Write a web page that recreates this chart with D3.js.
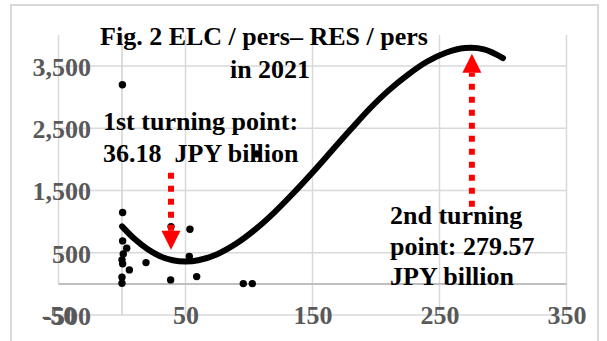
<!DOCTYPE html>
<html>
<head>
<meta charset="utf-8">
<script src="https://cdn.jsdelivr.net/npm/d3@7"></script>
<style>
  html, body { margin: 0; padding: 0; background: #fff; }
  svg { display: block; }
  text { font-family: "Liberation Serif", "Times New Roman", serif; font-weight: bold; }
</style>
</head>
<body>
<svg id="chart" width="607" height="341"></svg>
<script>
// ---- data ----
const pointX = [0.3, 0.5, 0.5, 3.7, 1, 0, 0.5, 5.8, 0, 0, 18.9, 38.6, 53.5, 53, 38.3, 58.8, 95.5, 102.6, 106];
const pointY = [3200, 1147, 691, 574, 482, 386, 322, 225, 108, 10, 342, 921, 879, 439, 64, 117, 5, 5, 2090];

const trendX = [0, 10, 20, 30, 40, 50, 60, 75, 90, 105, 120, 135, 150, 165, 180, 195, 210, 225, 240, 255, 270, 285, 300];
const trendY = [925, 720, 560, 445, 380, 360, 380, 478, 648, 876, 1150, 1460, 1790, 2135, 2480, 2815, 3110, 3360, 3570, 3715, 3790, 3770, 3630];

const xTicks = [-50, 50, 150, 250, 350];
const yTicks = [-500, 500, 1500, 2500, 3500];

const titleLines = ["Fig. 2 ELC / pers\u2013 RES / pers", "in 2021"];
const note1Lines = ["1st turning point:", "36.18  JPY billion"];
const note2Lines = ["2nd turning", "point: 279.57", "JPY billion"];

// arrows: x position, start y (tail), tip y in data units
const arrowX = [38.6, 275.5];
const arrowTail = [1785, 1238];
const arrowTip = [547, 3698];

// ---- layout ----
const svg = d3.select("#chart");
const x = d3.scaleLinear().domain([-50, 350]).range([58.5, 566.5]);
const y = d3.scaleLinear().domain([-500, 4000]).range([315, 35]);
const loc = d3.formatLocale({decimal: ".", thousands: ",", grouping: [3], currency: ["", ""], minus: "-"});
const fmt = loc.format(",");

// outer border
svg.append("rect").attr("x", 11).attr("y", 5).attr("width", 587).attr("height", 345)
  .attr("fill", "none").attr("stroke", "#d9d9d9").attr("stroke-width", 2);

const grid = svg.append("g");
// vertical gridlines
grid.selectAll("line.v").data(xTicks).join("line")
  .attr("x1", d => x(d)).attr("x2", d => x(d))
  .attr("y1", y(4000)).attr("y2", d => d < 0 ? y(0) : y(-500))
  .attr("stroke", "#d9d9d9").attr("stroke-width", 1.5);
// horizontal gridlines
grid.selectAll("line.h").data(yTicks).join("line")
  .attr("x1", x(-50)).attr("x2", x(350))
  .attr("y1", d => y(d)).attr("y2", d => y(d))
  .attr("stroke", "#d9d9d9").attr("stroke-width", 1.5);
// axis lines through zero
grid.append("line").attr("x1", x(0)).attr("x2", x(0)).attr("y1", y(4000)).attr("y2", y(-500))
  .attr("stroke", "#d0d0d0").attr("stroke-width", 1.5);
grid.append("line").attr("x1", x(-50)).attr("x2", x(350)).attr("y1", y(0)).attr("y2", y(0))
  .attr("stroke", "#bfbfbf").attr("stroke-width", 2);

// axes labels
const yAxis = svg.append("g").attr("transform", `translate(${x(0)},0)`)
  .call(d3.axisLeft(y).tickValues(yTicks).tickFormat(fmt).tickSize(0).tickPadding(31));
yAxis.select(".domain").remove();
yAxis.selectAll("text").attr("font-size", 26).attr("fill", "#595959")
  .attr("font-family", "Liberation Serif").attr("font-weight", "bold").attr("dy", "0.36em");

const xAxis = svg.append("g").attr("transform", `translate(0,${y(-500)})`)
  .call(d3.axisBottom(x).tickValues(xTicks).tickFormat(fmt).tickSize(0));
xAxis.select(".domain").remove();
xAxis.selectAll("text").attr("font-size", 26).attr("fill", "#595959")
  .attr("font-family", "Liberation Serif").attr("font-weight", "bold").attr("y", 9).attr("dy", null);

// data points
svg.append("g").selectAll("circle").data(pointX).join("circle")
  .attr("cx", (d, i) => x(d)).attr("cy", (d, i) => y(pointY[i])).attr("r", 3.7).attr("fill", "#000");

// trend curve
const trend = trendX.map((d, i) => [d, trendY[i]]);
svg.append("path").datum(trend)
  .attr("d", d3.line().x(d => x(d[0])).y(d => y(d[1])).curve(d3.curveCatmullRom.alpha(0.5)))
  .attr("fill", "none").attr("stroke", "#000").attr("stroke-width", 6).attr("stroke-linecap", "round");

// arrows
const arrows = svg.append("g");
arrowX.forEach((ax, i) => {
  const px = x(ax), tail = y(arrowTail[i]), tip = y(arrowTip[i]);
  const dir = tip > tail ? 1 : -1;
  const headLen = 19, headW = 9.5;
  const base = tip - dir * headLen;
  arrows.append("line").attr("x1", px).attr("x2", px).attr("y1", tail).attr("y2", base)
    .attr("stroke", "#ff0000").attr("stroke-width", 6).attr("stroke-dasharray", "6,7");
  arrows.append("path")
    .attr("d", `M${px - headW},${base}L${px + headW},${base}L${px},${tip}Z`)
    .attr("fill", "#ff0000");
});

// text
const txt = svg.append("g").attr("font-size", 26).attr("fill", "#000");
txt.append("text").attr("x", 264).attr("y", 45).attr("text-anchor", "middle").text(titleLines[0]);
txt.append("text").attr("x", 270).attr("y", 77.5).attr("text-anchor", "middle").text(titleLines[1]);
note1Lines.forEach((t, i) => {
  txt.append("text").attr("x", 103).attr("y", 130 + i * 32).style("white-space", "pre").text(t);
});
note2Lines.forEach((t, i) => {
  txt.append("text").attr("x", 390).attr("y", 224 + i * 30.5).text(t);
});
</script>
</body>
</html>
